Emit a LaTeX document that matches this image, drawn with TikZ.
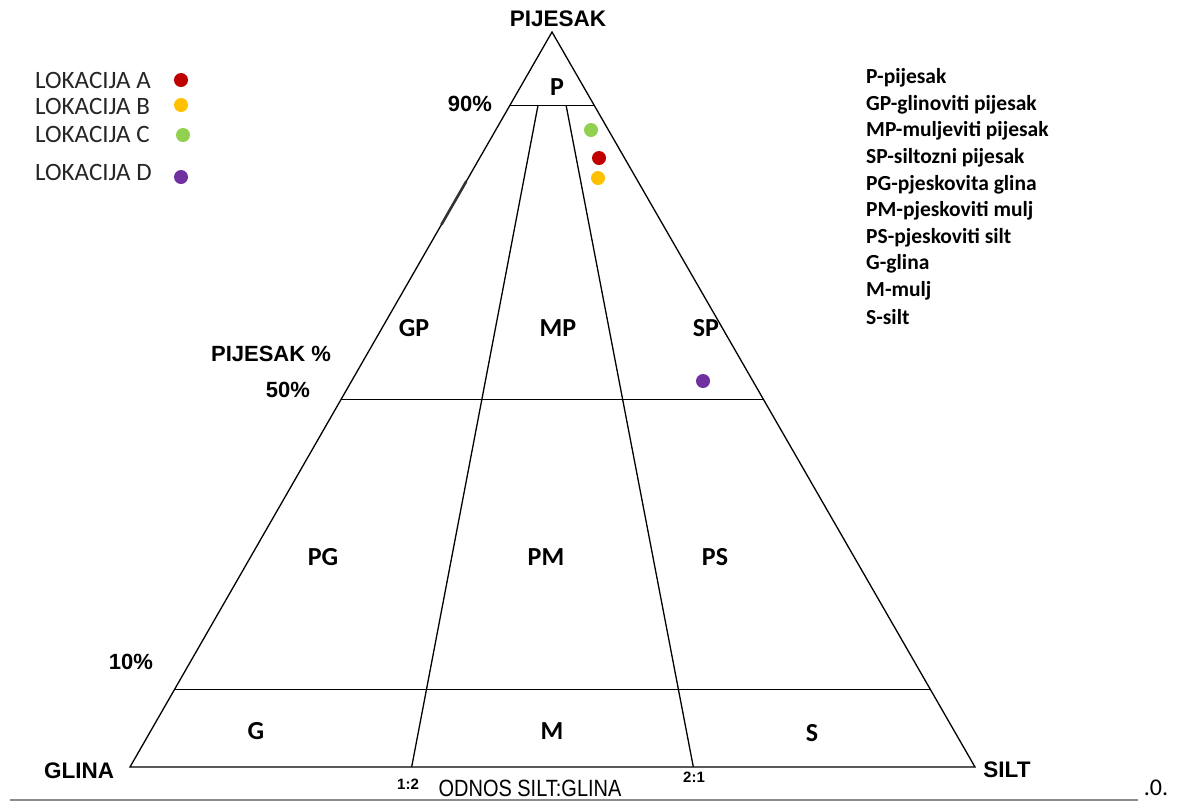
\documentclass[tikz,border=0pt]{standalone}
\usepackage{fontspec}
\setmainfont{Carlito}
\newfontfamily\arialf{Liberation Sans}
\newfontfamily\arialn[FakeStretch=0.85]{Liberation Sans}
\usetikzlibrary{calc}
\definecolor{cA}{HTML}{C00000}
\definecolor{cB}{HTML}{FFC000}
\definecolor{cC}{HTML}{92D050}
\definecolor{cD}{HTML}{7030A0}
\tikzset{
  tri/.style={line width=1.3pt, black},
  corner/.style={font=\arialf\bfseries\fontsize{22.5}{26}\selectfont, inner sep=0pt},
  region/.style={font=\bfseries\fontsize{26}{30}\selectfont, inner sep=0pt},
  pct/.style={font=\arialf\bfseries\fontsize{22}{26}\selectfont, inner sep=0pt},
  ratio/.style={font=\arialf\bfseries\fontsize{15}{18}\selectfont, inner sep=0pt},
  legl/.style={font=\fontsize{25}{30}\selectfont, inner sep=0pt, anchor=west, text=black!85},
  legr/.style={font=\bfseries\fontsize{21.5}{26}\selectfont, inner sep=0pt, anchor=west},
  dot/.style={circle, inner sep=0pt, minimum size=14pt, draw=none},
}
\begin{document}
\begin{tikzpicture}[x=1pt,y=-1pt]
\useasboundingbox (0,0) rectangle (1180,804);
% corners
\coordinate (A) at (552,32);
\coordinate (L) at (130,767);
\coordinate (R) at (975,767);
\coordinate (Q1) at ($(L)!1/3!(R)$);
\coordinate (Q2) at ($(L)!2/3!(R)$);
% horizontal class lines
\coordinate (h90l) at ($(A)!0.1!(L)$);
\coordinate (h90r) at ($(A)!0.1!(R)$);
\coordinate (h50l) at ($(A)!0.5!(L)$);
\coordinate (h50r) at ($(A)!0.5!(R)$);
\coordinate (h10l) at ($(A)!0.895!(L)$);
\coordinate (h10r) at ($(A)!0.895!(R)$);
\coordinate (t1) at ($(A)!0.1!(Q1)$);
\coordinate (t2) at ($(A)!0.1!(Q2)$);
\coordinate (m1) at ($(A)!0.203!(L)$);
\coordinate (m2) at ($(A)!0.262!(L)$);
\draw[tri] (A) -- (L) -- (R) -- cycle;
\draw[tri] (h90l) -- (h90r);
\draw[tri] (h50l) -- (h50r);
\draw[tri] (h10l) -- (h10r);
\draw[tri] (t1) -- (Q1);
\draw[tri] (t2) -- (Q2);
\draw[line width=2.6pt, black!80] (m1) -- (m2);
% corner labels
\node[corner] (nP) at (558,19) {PIJESAK};
\node[corner] (nG) at (79,771) {GLINA};
\node[corner] (nS) at (1007,770) {SILT};
\node[pct] (p90) at (470,104) {90\%};
\node[pct] (pj) at (271,354) {PIJESAK \%};
\node[pct] (p50) at (288,390) {50\%};
\node[pct] (p10) at (131,662) {10\%};
\node[ratio] (r12) at (408,784) {1:2};
\node[ratio] (r21) at (694,777) {2:1};
\node[font=\arialn\fontsize{23.5}{27}\selectfont, inner sep=0pt] (odn) at (530,788) {ODNOS SILT:GLINA};
% region labels
\node[region] (rP) at (557,87) {P};
\node[region] (rGP) at (414,328) {GP};
\node[region] (rMP) at (558,328) {MP};
\node[region] (rSP) at (706,328) {SP};
\node[region] (rPG) at (323,557) {PG};
\node[region] (rPM) at (546,557) {PM};
\node[region] (rPS) at (715,557) {PS};
\node[region] (rG) at (256,731) {G};
\node[region] (rM) at (552,731) {M};
\node[region] (rS) at (812,733) {S};
% sample points
\node[dot, fill=cC] (sC) at (591,130) {};
\node[dot, fill=cA] (sA) at (599,158) {};
\node[dot, fill=cB] (sB) at (598,178) {};
\node[dot, fill=cD] (sD) at (703,381) {};
% left legend
\node[legl] (lA) at (35,80) {LOKACIJA A};
\node[legl] (lB) at (35,106) {LOKACIJA B};
\node[legl] (lC) at (35,134) {LOKACIJA C};
\node[legl] (lD) at (35,172) {LOKACIJA D};
\node[dot, fill=cA] (dA) at (181,80) {};
\node[dot, fill=cB] (dB) at (181,105) {};
\node[dot, fill=cC] (dC) at (183,135) {};
\node[dot, fill=cD] (dD) at (181,177) {};
% right legend
\node[legr] (k1) at (866,78) {P-pijesak};
\node[legr] (k2) at (866,104.6) {GP-glinoviti pijesak};
\node[legr] (k3) at (866,131.2) {MP-muljeviti pijesak};
\node[legr] (k4) at (866,157.8) {SP-siltozni pijesak};
\node[legr] (k5) at (866,184.4) {PG-pjeskovita glina};
\node[legr] (k6) at (866,211) {PM-pjeskoviti mulj};
\node[legr] (k7) at (866,237.6) {PS-pjeskoviti silt};
\node[legr] (k8) at (866,264.2) {G-glina};
\node[legr] (k9) at (866,290.8) {M-mulj};
\node[legr] (k10) at (866,317.4) {S-silt};
% bottom rule
\coordinate (b1) at (10,800);
\coordinate (b2) at (1138,800);
\draw[line width=1.5pt, black!45] (b1) -- (b2);
\node[font=\fontsize{24}{28}\selectfont, inner sep=0pt] (dz) at (1156,788) {.0.};
\end{tikzpicture}
\end{document}
